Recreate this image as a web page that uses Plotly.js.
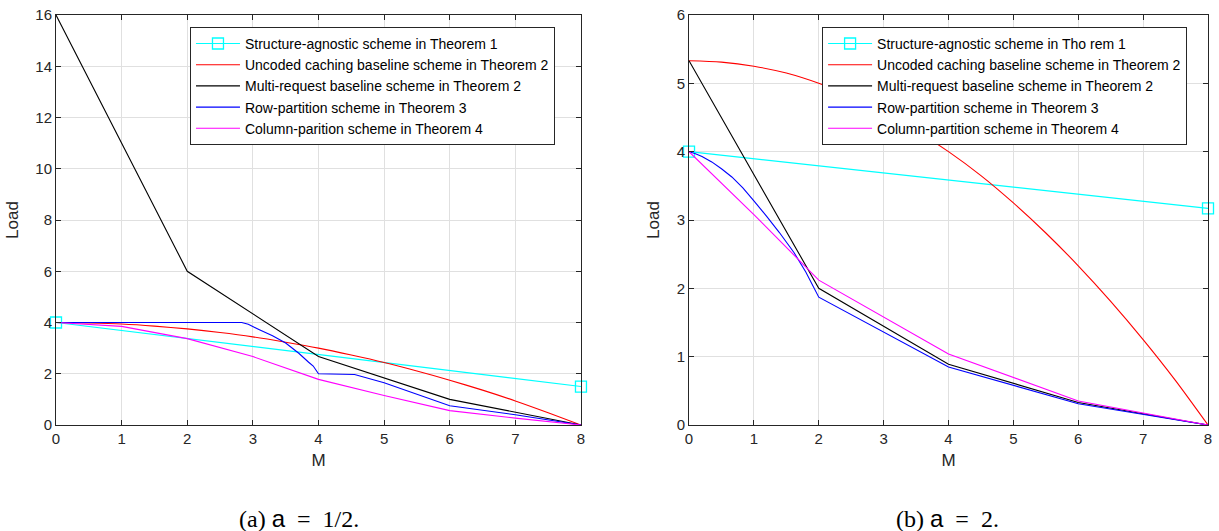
<!DOCTYPE html>
<html>
<head>
<meta charset="utf-8">
<script src="https://cdn.plot.ly/plotly-3.0.1.min.js"></script>
<style>html,body{margin:0;padding:0;background:#fff;}#chart{width:1219px;height:531px;}</style>
</head>
<body>
<div id="chart"></div>
<script>
// ---------- data ----------
const xTicks = [0, 1, 2, 3, 4, 5, 6, 7, 8];
const yTicksA = [0, 2, 4, 6, 8, 10, 12, 14, 16];
const yTicksB = [0, 1, 2, 3, 4, 5, 6];

const namesA = [
  "Structure-agnostic scheme in Theorem 1",
  "Uncoded caching baseline scheme in Theorem 2",
  "Multi-request baseline scheme in Theorem 2",
  "Row-partition scheme in Theorem 3",
  "Column-parition scheme in Theorem 4"
];
const namesB = [
  "Structure-agnostic scheme in Tho rem 1",
  "Uncoded caching baseline scheme in Theorem 2",
  "Multi-request baseline scheme in Theorem 2",
  "Row-partition scheme in Theorem 3",
  "Column-partition scheme in Theorem 4"
];

// (a) a = 1/2
const agnosticA_M = [0, 8];
const agnosticA_L = [4, 1.5];
const uncodedA_M = [0, 0.5, 1, 1.5, 2, 2.5, 3, 3.5, 4, 4.5, 5, 5.5, 6, 6.5, 7, 7.5, 8];
const uncodedA_L = [4, 3.98, 3.94, 3.86, 3.75, 3.61, 3.44, 3.23, 3.0, 2.73, 2.44, 2.11, 1.75, 1.36, 0.94, 0.48, 0];
const multiA_M = [0, 2, 4, 6, 8];
const multiA_L = [16, 6, 2.67, 1.0, 0];
const rowA_M = [0, 2.83, 2.93, 3.1, 3.3, 3.5, 3.7, 3.85, 3.92, 4.0, 4.55, 5, 6, 7, 8];
const rowA_L = [4, 4, 3.93, 3.72, 3.48, 3.2, 2.8, 2.45, 2.3, 2.0, 1.97, 1.65, 0.75, 0.4, 0];
const colA_M = [0, 1, 2, 3, 4, 5, 6, 7, 8];
const colA_L = [4, 3.85, 3.37, 2.67, 1.78, 1.15, 0.56, 0.27, 0];

// (b) a = 2
const agnosticB_M = [0, 8];
const agnosticB_L = [4, 3.17];
const uncodedB_M = [0, 0.5, 1, 1.5, 2, 2.5, 3, 3.5, 4, 4.5, 5, 5.5, 6, 6.5, 7, 7.5, 8];
const uncodedB_L = [5.33, 5.31, 5.25, 5.15, 5.0, 4.81, 4.58, 4.31, 4.0, 3.65, 3.25, 2.81, 2.33, 1.81, 1.25, 0.65, 0];
const multiB_M = [0, 2, 4, 6, 8];
const multiB_L = [5.33, 2.0, 0.89, 0.33, 0];
const rowB_M = [0, 0.1, 0.2, 0.35, 0.5, 0.66, 0.83, 1.0, 1.2, 1.39, 1.62, 1.8, 2, 4, 6, 8];
const rowB_L = [4, 3.97, 3.93, 3.85, 3.75, 3.63, 3.47, 3.28, 3.05, 2.82, 2.52, 2.24, 1.87, 0.85, 0.31, 0];
const colB_M = [0, 1, 2, 4, 6, 8];
const colB_L = [4, 3.08, 2.12, 1.04, 0.35, 0];

const colors = ["#00ffff", "#ff0000", "#000000", "#0000ff", "#ff00ff"];

// ---------- traces ----------
function mk(x, y, name, color, xa, ya, leg, withMarker, smooth) {
  const t = {
    x: x, y: y, name: name, type: "scatter",
    mode: withMarker ? "lines+markers" : "lines",
    line: {color: color, width: 1.1, simplify: false},
    xaxis: xa, yaxis: ya, legend: leg, cliponaxis: false
  };
  if (smooth) { t.line.shape = "spline"; t.line.smoothing = 0.8; }
  if (withMarker) {
    t.marker = {symbol: "square-open", size: 11, color: color, line: {width: 1.3, color: color}};
  }
  return t;
}
const data = [
  mk(agnosticA_M, agnosticA_L, namesA[0], colors[0], "x", "y", "legend", true, false),
  mk(uncodedA_M, uncodedA_L, namesA[1], colors[1], "x", "y", "legend", false, true),
  mk(multiA_M, multiA_L, namesA[2], colors[2], "x", "y", "legend", false, false),
  mk(rowA_M, rowA_L, namesA[3], colors[3], "x", "y", "legend", false, false),
  mk(colA_M, colA_L, namesA[4], colors[4], "x", "y", "legend", false, false),
  mk(agnosticB_M, agnosticB_L, namesB[0], colors[0], "x2", "y2", "legend2", true, false),
  mk(uncodedB_M, uncodedB_L, namesB[1], colors[1], "x2", "y2", "legend2", false, true),
  mk(multiB_M, multiB_L, namesB[2], colors[2], "x2", "y2", "legend2", false, false),
  mk(rowB_M, rowB_L, namesB[3], colors[3], "x2", "y2", "legend2", false, false),
  mk(colB_M, colB_L, namesB[4], colors[4], "x2", "y2", "legend2", false, false)
];

const axisFont = {family: "Liberation Sans, Arial, sans-serif", size: 15, color: "#262626"};
const titleFont = {family: "Liberation Sans, Arial, sans-serif", size: 17, color: "#262626"};
function xAxis(domain, anchor) {
  return {
    domain: domain, anchor: anchor, range: [0, 8], tickvals: xTicks,
    showgrid: true, gridcolor: "#e0e0e0", gridwidth: 1,
    zeroline: false, showline: true, linecolor: "#262626", linewidth: 1,
    mirror: "ticks", ticks: "inside", ticklen: 5, tickcolor: "#262626",
    tickfont: axisFont,
    title: {text: "M", font: titleFont, standoff: 8}
  };
}
function yAxis(range, ticks, anchor) {
  return {
    domain: [0, 1], anchor: anchor, range: range, tickvals: ticks,
    showgrid: true, gridcolor: "#e0e0e0", gridwidth: 1,
    zeroline: false, showline: true, linecolor: "#262626", linewidth: 1,
    mirror: "ticks", ticks: "inside", ticklen: 5, tickcolor: "#262626",
    tickfont: axisFont,
    title: {text: "Load", font: titleFont, standoff: 12}
  };
}
const legFont = {family: "Liberation Sans, Arial, sans-serif", size: 14, color: "#000000"};
const captionFont = {family: "Liberation Serif, Times New Roman, serif", size: 24, color: "#000000"};
const layout = {
  width: 1219, height: 531,
  margin: {l: 56, r: 11, t: 15, b: 106},
  paper_bgcolor: "#ffffff", plot_bgcolor: "#ffffff",
  showlegend: true,
  xaxis: xAxis([0, 0.4557], "y"),
  yaxis: yAxis([0, 16], yTicksA, "x"),
  xaxis2: xAxis([0.5495, 1], "y2"),
  yaxis2: yAxis([0, 6], yTicksB, "x2"),
  legend: {x: 0.1163, y: 0.971, xanchor: "left", yanchor: "top", bgcolor: "#ffffff",
           bordercolor: "#262626", borderwidth: 1, font: legFont, itemwidth: 44, tracegroupgap: 0},
  legend2: {x: 0.665, y: 0.971, xanchor: "left", yanchor: "top", bgcolor: "#ffffff",
            bordercolor: "#262626", borderwidth: 1, font: legFont, itemwidth: 44, tracegroupgap: 0},
  annotations: [
    {text: "(a)&nbsp;<span style=\"font-family:Liberation Sans\">a</span>&nbsp;&nbsp;=&nbsp;&nbsp;1/2.", xref: "paper", yref: "paper",
     x: 0.211, y: -0.227, xanchor: "center", yanchor: "middle", showarrow: false, font: captionFont},
    {text: "(b)&nbsp;<span style=\"font-family:Liberation Sans\">a</span>&nbsp;&nbsp;=&nbsp;&nbsp;2.", xref: "paper", yref: "paper",
     x: 0.774, y: -0.227, xanchor: "center", yanchor: "middle", showarrow: false, font: captionFont}
  ]
};
Plotly.newPlot("chart", data, layout, {displayModeBar: false, staticPlot: true});
</script>
</body>
</html>
